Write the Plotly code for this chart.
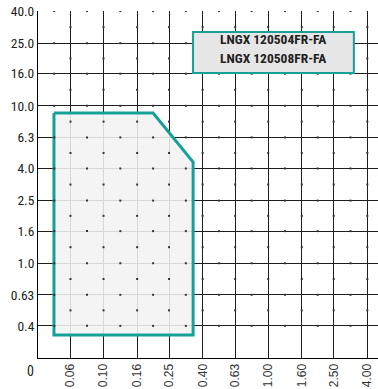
import math
import plotly.graph_objects as go

# ---- data ----
x_tick_vals = [0.063, 0.1, 0.16, 0.25, 0.4, 0.63, 1.0, 1.6, 2.5, 4.0]
x_tick_text = ["0.06", "0.10", "0.16", "0.25", "0.40", "0.63", "1.00", "1.60", "2.50", "4.00"]
y_tick_vals = [0.4, 0.63, 1.0, 1.6, 2.5, 4.0, 6.3, 10.0, 16.0, 25.0, 40.0]
y_tick_text = ["0.4", "0.63", "1.0", "1.6", "2.5", "4.0", "6.3", "10.0", "16.0", "25.0", "40.0"]
x_origin = 0.04   # position of the "0" corner on the feed axis
y_origin = 0.25   # position of the "0" corner on the depth axis

# application area (feed f, depth of cut ap)
area_feed = [0.05, 0.20, 0.35, 0.35, 0.05, 0.05]
area_depth = [9.0, 9.0, 4.4, 0.35, 0.35, 9.0]

labels = ["LNGX 120504FR-FA", "LNGX 120508FR-FA"]

TEAL = "#17a096"
NARROW = "Roboto Condensed, Liberation Sans Narrow, Roboto, sans-serif"

fig = go.Figure()

# minor marks (midpoints between grid lines)
xs_all = [x_origin] + x_tick_vals
ys_all = [y_origin] + y_tick_vals
mid_x = [math.sqrt(a * b) for a, b in zip(xs_all[:-1], xs_all[1:])]
mid_y = [math.sqrt(a * b) for a, b in zip(ys_all[:-1], ys_all[1:])]

fig.add_trace(go.Scatter(
    x=area_feed, y=area_depth, mode="lines", fill="toself",
    fillcolor="rgba(243,243,243,0.88)",
    line=dict(color=TEAL, width=3), hoverinfo="skip", showlegend=False))

dx, dy = [], []
for yv in y_tick_vals:
    for xv in mid_x:
        dx.append(xv); dy.append(yv)
for xv in x_tick_vals:
    for yv in mid_y[1:]:
        dx.append(xv); dy.append(yv)
fig.add_trace(go.Scatter(
    x=dx, y=dy, mode="markers",
    marker=dict(symbol="square", size=2, color="#333333", line=dict(width=0)),
    hoverinfo="skip", showlegend=False))

fig.update_xaxes(
    type="log",
    range=[math.log10(x_origin), 0.667],
    tickvals=x_tick_vals, ticktext=x_tick_text, tickangle=-90,
    tickfont=dict(family="Liberation Sans, Arial, sans-serif", size=12, color="#333333"),
    showgrid=True, gridcolor="#1e1e1e", gridwidth=1,
    showline=True, linecolor="#000000", linewidth=1,
    zeroline=False, ticks="", fixedrange=True, automargin=False)
fig.update_yaxes(
    type="log",
    range=[math.log10(y_origin), 1.6025],
    tickvals=y_tick_vals, ticktext=y_tick_text,
    tickfont=dict(family=NARROW, size=13.5, color="#222222"),
    showgrid=True, gridcolor="#1e1e1e", gridwidth=1,
    showline=True, linecolor="#000000", linewidth=1,
    zeroline=False, ticks="", fixedrange=True, automargin=False)

# legend-like box
fig.add_shape(type="rect", xref="paper", yref="paper",
              x0=0.456, x1=0.929, y0=0.821, y1=0.9395,
              fillcolor="#e6e6e6", line=dict(color=TEAL, width=2), layer="above")
for i, t in enumerate(labels):
    fig.add_annotation(xref="paper", yref="paper", x=0.6926, y=0.9195 - i * 0.054,
                       text="<b>" + t + "</b>", showarrow=False,
                       font=dict(family=NARROW, size=13.5, color="#222222"),
                       xanchor="center", yanchor="middle")

fig.add_annotation(xref="paper", yref="paper", x=-0.0235, y=-0.038, text="0",
                   showarrow=False, font=dict(family=NARROW, size=14, color="#222222"),
                   xanchor="center", yanchor="middle")

fig.update_layout(
    width=378, height=389,
    margin=dict(l=38, r=0, t=11, b=31),
    paper_bgcolor="white", plot_bgcolor="white",
    showlegend=False)

fig.write_html("out.html", config={"displayModeBar": False},
               post_script="document.body.style.margin='0';")
